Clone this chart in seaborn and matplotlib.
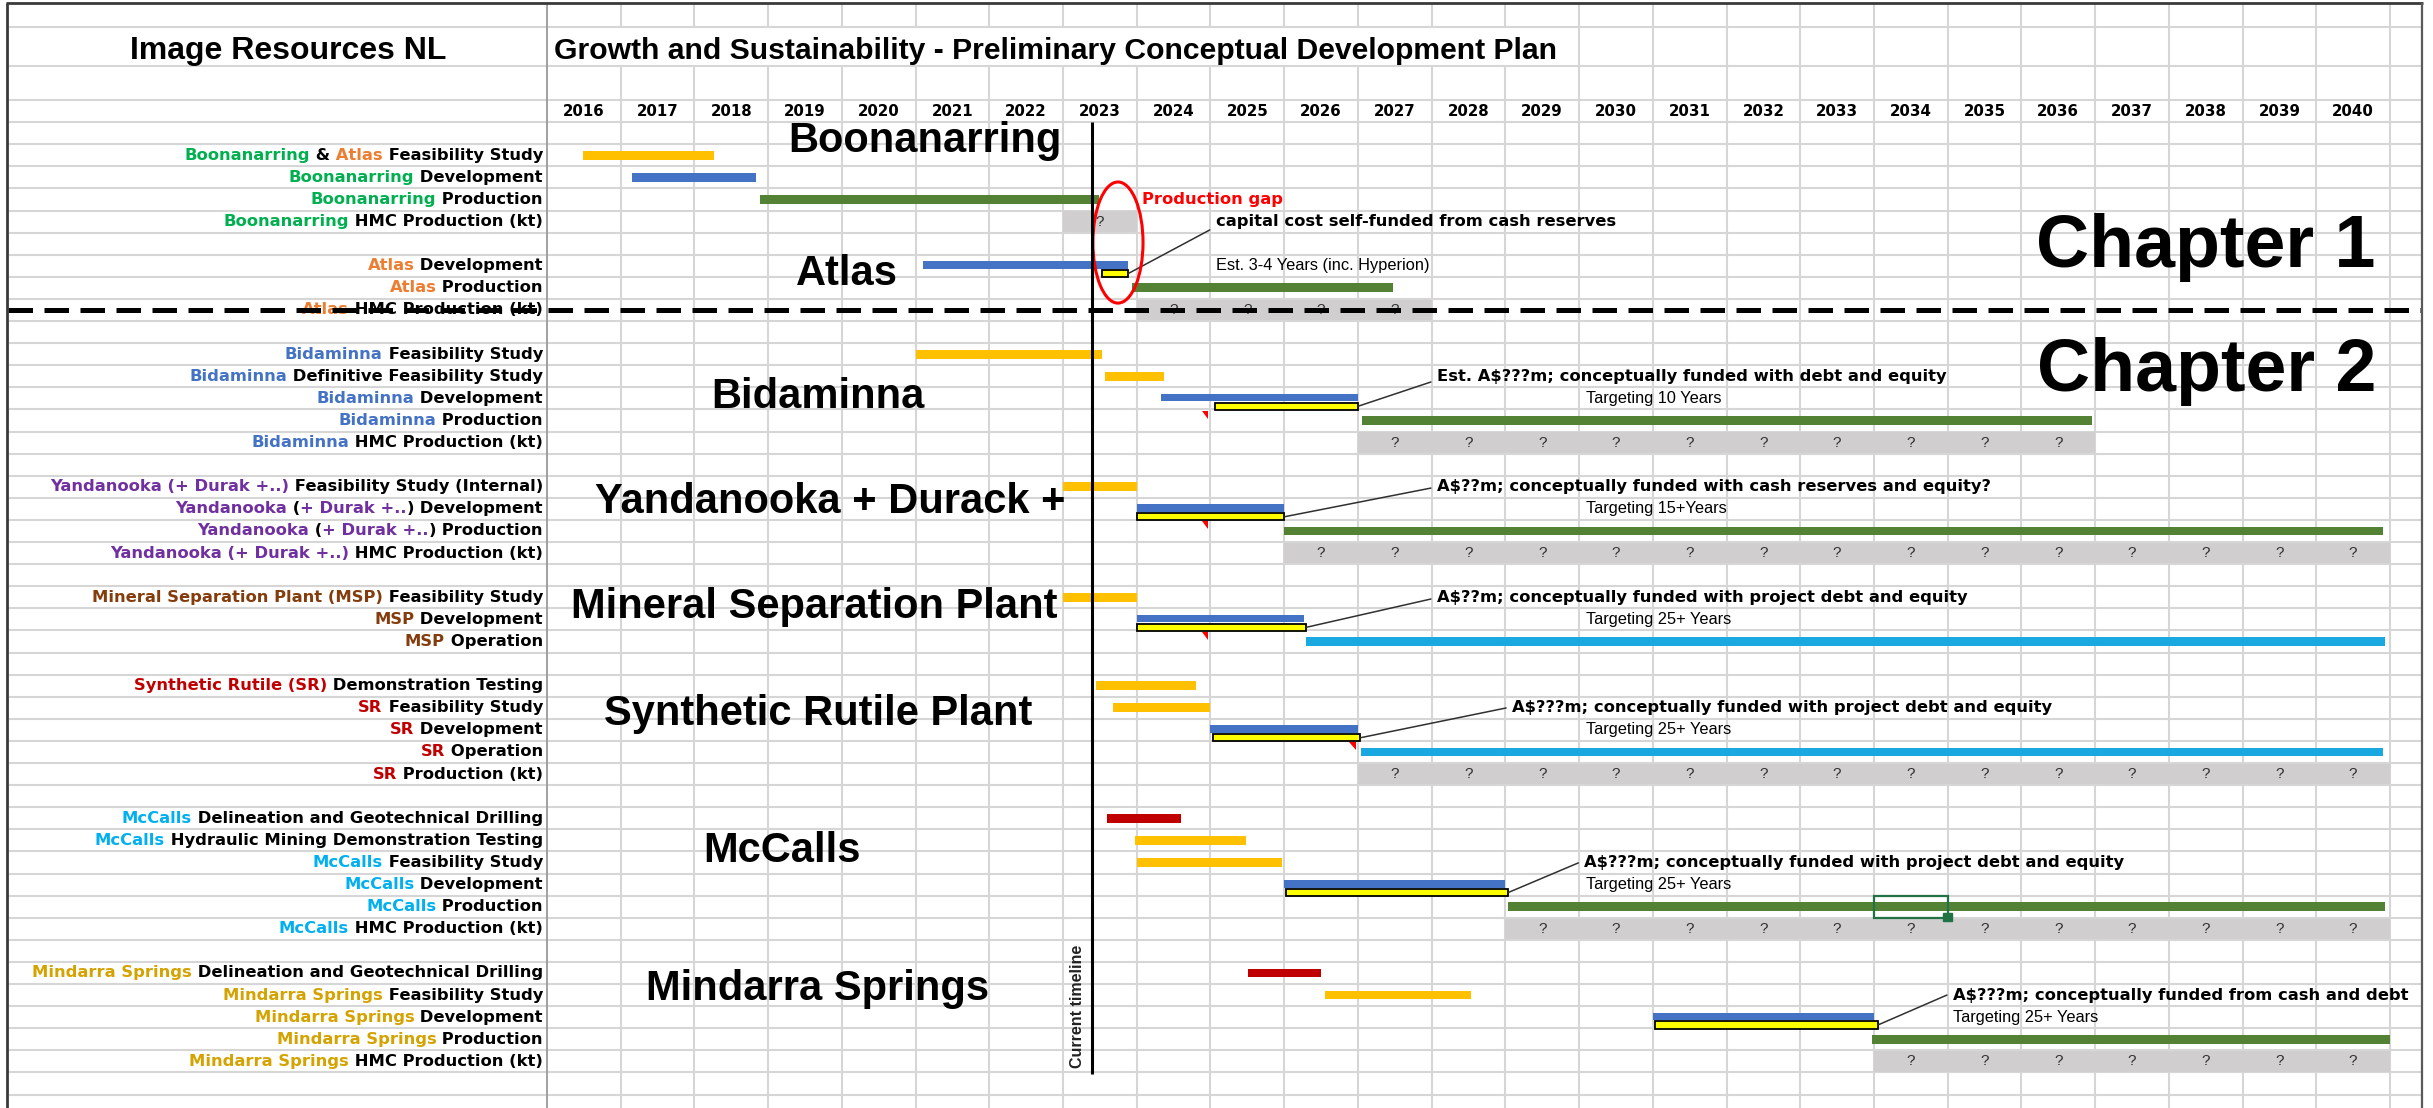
import matplotlib
matplotlib.use("Agg")
import matplotlib.pyplot as plt
import seaborn as sns
import pandas as pd
from matplotlib.offsetbox import TextArea, HPacker, AnnotationBbox
from matplotlib.patches import Ellipse, Rectangle

# ------------------------------------------------------------------ data
years = list(range(2016, 2041))

label_colors = {
    "k": "#000000", "boon": "#00B050", "atlas": "#ED7D31", "bid": "#4472C4",
    "yand": "#7030A0", "msp": "#843C0C", "sr": "#C00000", "mcc": "#00B0F0",
    "mind": "#D4A300",
}

label_segments = [
    [("Boonanarring", "boon"), (" &", "k"), (" Atlas", "atlas"), (" Feasibility Study", "k")],
    [("Boonanarring", "boon"), (" Development", "k")],
    [("Boonanarring", "boon"), (" Production", "k")],
    [("Boonanarring", "boon"), (" HMC Production (kt)", "k")],
    [],
    [("Atlas", "atlas"), (" Development", "k")],
    [("Atlas", "atlas"), (" Production", "k")],
    [("Atlas", "atlas"), (" HMC Production (kt)", "k")],
    [],
    [("Bidaminna", "bid"), (" Feasibility Study", "k")],
    [("Bidaminna", "bid"), (" Definitive Feasibility Study", "k")],
    [("Bidaminna", "bid"), (" Development", "k")],
    [("Bidaminna", "bid"), (" Production", "k")],
    [("Bidaminna", "bid"), (" HMC Production (kt)", "k")],
    [],
    [("Yandanooka (+ Durak +..)", "yand"), (" Feasibility Study (Internal)", "k")],
    [("Yandanooka", "yand"), (" (", "k"), ("+ Durak +..", "yand"), (")", "k"), (" Development", "k")],
    [("Yandanooka", "yand"), (" (", "k"), ("+ Durak +..", "yand"), (")", "k"), (" Production", "k")],
    [("Yandanooka (+ Durak +..)", "yand"), (" HMC Production (kt)", "k")],
    [],
    [("Mineral Separation Plant (MSP)", "msp"), (" Feasibility Study", "k")],
    [("MSP", "msp"), (" Development", "k")],
    [("MSP", "msp"), (" Operation", "k")],
    [],
    [("Synthetic Rutile (SR)", "sr"), (" Demonstration Testing", "k")],
    [("SR", "sr"), (" Feasibility Study", "k")],
    [("SR", "sr"), (" Development", "k")],
    [("SR", "sr"), (" Operation", "k")],
    [("SR", "sr"), (" Production (kt)", "k")],
    [],
    [("McCalls", "mcc"), (" Delineation and Geotechnical Drilling", "k")],
    [("McCalls", "mcc"), (" Hydraulic Mining Demonstration Testing", "k")],
    [("McCalls", "mcc"), (" Feasibility Study", "k")],
    [("McCalls", "mcc"), (" Development", "k")],
    [("McCalls", "mcc"), (" Production", "k")],
    [("McCalls", "mcc"), (" HMC Production (kt)", "k")],
    [],
    [("Mindarra Springs", "mind"), (" Delineation and Geotechnical Drilling", "k")],
    [("Mindarra Springs", "mind"), (" Feasibility Study", "k")],
    [("Mindarra Springs", "mind"), (" Development", "k")],
    [("Mindarra Springs", "mind"), (" Production", "k")],
    [("Mindarra Springs", "mind"), (" HMC Production (kt)", "k")],
]
task_names = ["".join(t for t, _ in segs) for segs in label_segments]

bar_colors = {"study": "#FFC000", "dev": "#4472C4", "prod": "#548235",
              "oper": "#1AA8E0", "drill": "#C00000"}

bar_task = [
    "Boonanarring & Atlas Feasibility Study", "Boonanarring Development", "Boonanarring Production",
    "Atlas Development", "Atlas Production",
    "Bidaminna Feasibility Study", "Bidaminna Definitive Feasibility Study", "Bidaminna Development",
    "Bidaminna Production",
    "Yandanooka (+ Durak +..) Feasibility Study (Internal)", "Yandanooka (+ Durak +..) Development",
    "Yandanooka (+ Durak +..) Production",
    "Mineral Separation Plant (MSP) Feasibility Study", "MSP Development", "MSP Operation",
    "Synthetic Rutile (SR) Demonstration Testing", "SR Feasibility Study", "SR Development", "SR Operation",
    "McCalls Delineation and Geotechnical Drilling", "McCalls Hydraulic Mining Demonstration Testing",
    "McCalls Feasibility Study", "McCalls Development", "McCalls Production",
    "Mindarra Springs Delineation and Geotechnical Drilling", "Mindarra Springs Feasibility Study",
    "Mindarra Springs Development", "Mindarra Springs Production",
]
bar_start = [2016.49, 2017.15, 2018.89, 2021.10, 2023.93, 2021.00, 2023.57, 2024.33, 2027.05,
             2023.00, 2024.00, 2026.00, 2023.00, 2024.00, 2026.30, 2023.45, 2023.68, 2025.00,
             2027.04, 2023.60, 2023.98, 2024.00, 2026.00, 2029.04, 2025.51, 2026.55, 2031.00, 2033.97]
bar_end = [2018.27, 2018.83, 2023.49, 2023.88, 2027.47, 2023.53, 2024.37, 2027.00, 2036.96,
           2024.00, 2026.00, 2040.90, 2024.00, 2026.27, 2040.93, 2024.80, 2025.00, 2027.00,
           2040.90, 2024.60, 2025.48, 2025.97, 2029.00, 2040.93, 2026.50, 2028.53, 2034.00, 2041.00]
bar_kind = ["study", "dev", "prod", "dev", "prod", "study", "study", "dev", "prod",
            "study", "dev", "prod", "study", "dev", "oper", "study", "study", "dev", "oper",
            "drill", "study", "study", "dev", "prod", "drill", "study", "dev", "prod"]

box_task = ["Atlas Development", "Bidaminna Development", "Yandanooka (+ Durak +..) Development",
            "MSP Development", "SR Development", "McCalls Development", "Mindarra Springs Development"]
box_start = [2023.53, 2025.06, 2024.00, 2024.00, 2025.03, 2026.02, 2031.03]
box_end = [2023.88, 2027.00, 2026.00, 2026.30, 2027.03, 2029.04, 2034.05]

hmc_task = ["Boonanarring HMC Production (kt)", "Atlas HMC Production (kt)",
            "Bidaminna HMC Production (kt)", "Yandanooka (+ Durak +..) HMC Production (kt)",
            "SR Production (kt)", "McCalls HMC Production (kt)", "Mindarra Springs HMC Production (kt)"]
hmc_start = [2023, 2024, 2027, 2026, 2027, 2029, 2034]
hmc_end = [2024, 2028, 2037, 2041, 2041, 2041, 2041]

note_text = ["capital cost self-funded from cash reserves",
             "Est. A$???m; conceptually funded with debt and equity",
             "A$??m; conceptually funded with cash reserves and equity?",
             "A$??m; conceptually funded with project debt and equity",
             "A$???m; conceptually funded with project debt and equity",
             "A$???m; conceptually funded with project debt and equity",
             "A$???m; conceptually funded from cash and debt"]
note_task = ["Boonanarring HMC Production (kt)", "Bidaminna Definitive Feasibility Study",
             "Yandanooka (+ Durak +..) Feasibility Study (Internal)",
             "Mineral Separation Plant (MSP) Feasibility Study", "SR Feasibility Study",
             "McCalls Feasibility Study", "Mindarra Springs Feasibility Study"]
note_x = [2025.07, 2028.07, 2028.07, 2028.07, 2029.09, 2030.07, 2035.07]
note_line_row = [0.88, 0.76, 0.56, 0.58, 0.51, 0.52, 0.50]
sub_text = ["Est. 3-4 Years (inc. Hyperion)", "Targeting 10 Years", "Targeting 15+Years",
            "Targeting 25+ Years", "Targeting 25+ Years", "Targeting 25+ Years", "Targeting 25+ Years"]
sub_x = [2025.07, 2030.09, 2030.09, 2030.09, 2030.09, 2030.09, 2035.07]

comment_cells = [("Bidaminna Production", 2025), ("Yandanooka (+ Durak +..) Production", 2025),
                 ("MSP Operation", 2025), ("SR Operation", 2027)]

section_titles = ["Boonanarring", "Atlas", "Bidaminna", "Yandanooka + Durack +",
                  "Mineral Separation Plant", "Synthetic Rutile Plant", "McCalls", "Mindarra Springs"]
section_px = [(925, 152), (847, 285), (818, 408), (830, 513), (814, 618), (818, 725), (782, 862), (818, 1000)]

current_year = 2023.39

# ------------------------------------------------------------------ layout helpers
FIRST_ROW = 5
ROW_OF = {n: FIRST_ROW + i for i, n in enumerate(task_names) if n}


def xpx(px):
    return 2016 + (px - 547) / 73.72


def ypx(py):
    return 3 + (py - 100) / 22.1


sns.set_theme(style="white")
plt.rcParams["font.family"] = ["DejaVu Sans"]

fig = plt.figure(figsize=(24.33, 11.08), dpi=100)
ax = fig.add_axes([0, 0, 1, 1])
ax.set_xlim(xpx(0), xpx(2433))
ax.set_ylim(ypx(1108), ypx(0))
ax.axis("off")

GRID = "#d6d6d6"
# horizontal grid
hrows = [ypx(27), ypx(66)] + list(range(3, 49))
ax.hlines(hrows, xpx(8), xpx(2422), color=GRID, lw=1.5, zorder=1)
# vertical grid
for yb in range(2017, 2042):
    if yb < 2030:
        ax.vlines(yb, ypx(3), ypx(27), color=GRID, lw=1.5, zorder=1)
        ax.vlines(yb, ypx(66), ypx(1108), color=GRID, lw=1.5, zorder=1)
    else:
        ax.vlines(yb, ypx(3), ypx(1108), color=GRID, lw=1.5, zorder=1)
ax.vlines(2016, ypx(3), ypx(1108), color="#9a9a9a", lw=1.3, zorder=1.2)
# borders
ax.hlines(ypx(3), xpx(6), xpx(2423), color="#3a3a3a", lw=2.0, zorder=7)
ax.vlines(xpx(7), ypx(3), ypx(1108), color="#3a3a3a", lw=2.0, zorder=7)
ax.vlines(xpx(2422), ypx(3), ypx(1108), color="#5a5a5a", lw=1.6, zorder=7)

# titles
ax.text(xpx(288), ypx(59), "Image Resources NL", ha="center", va="baseline",
        family="Liberation Sans", fontweight="bold", fontsize=23, color="black", zorder=5)
ax.text(xpx(554), ypx(59), "Growth and Sustainability - Preliminary Conceptual Development Plan",
        ha="left", va="baseline", family="Liberation Sans", fontweight="bold", fontsize=21.7,
        color="black", zorder=5)

# year header
for y in years:
    ax.text(y + 0.5, 3.5, str(y), ha="center", va="center", fontsize=10.8,
            fontweight="bold", family="DejaVu Sans", color="black", zorder=5)

# task labels (multi coloured)
LABEL_FS = 11.8
for i, segs in enumerate(label_segments):
    if not segs:
        continue
    row = FIRST_ROW + i
    kids = [TextArea(t, textprops=dict(color=label_colors[c], fontsize=LABEL_FS,
                                       fontweight="bold", family="DejaVu Sans"))
            for t, c in segs]
    pack = HPacker(children=kids, align="baseline", pad=0, sep=0)
    ab = AnnotationBbox(pack, (xpx(543), row + 0.5), xycoords="data", box_alignment=(1, 0.5),
                        frameon=False, pad=0, annotation_clip=False, zorder=5)
    ax.add_artist(ab)

# grey HMC cells with question marks
for t, s, e in zip(hmc_task, hmc_start, hmc_end):
    r = ROW_OF[t]
    ax.barh(r + 0.5, e - s, left=s, height=0.92, color="#D0CECE", zorder=1.5, linewidth=0)
    for y in range(s, e):
        ax.text(y + 0.5, r + 0.5, "?", ha="center", va="center", fontsize=11,
                family="Liberation Sans", color="#303030", zorder=5)

# bars
bars = pd.DataFrame({"task": bar_task, "start": bar_start, "end": bar_end, "kind": bar_kind})
bars["row"] = bars["task"].map(ROW_OF)
boxed = set(box_task)
for _, b in bars.iterrows():
    if b["task"] in boxed:
        yc, h = b["row"] + 0.47, 0.34
    else:
        yc, h = b["row"] + 0.5, 0.40
    ax.barh(yc, b["end"] - b["start"], left=b["start"], height=h,
            color=bar_colors[b["kind"]], linewidth=0, zorder=3)

# capital cost boxes
for t, s, e in zip(box_task, box_start, box_end):
    r = ROW_OF[t]
    ax.barh(r + 0.86, e - s, left=s, height=0.33, color="#FFFF00", edgecolor="black",
            linewidth=1.3, zorder=4)

# notes with leader lines
for i in range(len(note_text)):
    r = ROW_OF[note_task[i]]
    br = ROW_OF[box_task[i]]
    ax.text(note_x[i], r + 0.5, note_text[i], ha="left", va="center", fontsize=LABEL_FS,
            fontweight="bold", family="DejaVu Sans", color="black", zorder=5)
    ax.text(sub_x[i], br + 0.5, sub_text[i], ha="left", va="center", fontsize=11.8,
            family="Liberation Sans", color="black", zorder=5)
    ax.plot([box_end[i], note_x[i] - 0.08], [br + 0.86, r + note_line_row[i]],
            color="#303030", lw=1.1, zorder=4)

# comment indicators
for t, yb in comment_cells:
    r = ROW_OF[t]
    ax.fill([yb - 0.12, yb - 0.03, yb - 0.03], [r + 0.05, r + 0.05, r + 0.42],
            color="#FF0000", zorder=4, linewidth=0)

# section titles
for txt, (px, py) in zip(section_titles, section_px):
    ax.text(xpx(px), ypx(py), txt, ha="center", va="baseline", family="Liberation Sans",
            fontweight="bold", fontsize=30, color="black", zorder=5)

# chapter labels
ax.text(xpx(2206), ypx(267), "Chapter 1", ha="center", va="baseline", family="Liberation Sans",
        fontweight="bold", fontsize=53, color="black", zorder=5)
ax.text(xpx(2207), ypx(391), "Chapter 2", ha="center", va="baseline", family="Liberation Sans",
        fontweight="bold", fontsize=53, color="black", zorder=5)

# production gap
ax.add_patch(Ellipse((2023.745, 9.45), width=0.68, height=5.48, fill=False,
                     edgecolor="#FF0000", lw=2.2, zorder=6))
ax.text(2024.07, ROW_OF["Boonanarring Production"] + 0.5, "Production gap", ha="left",
        va="center", fontsize=LABEL_FS, fontweight="bold", family="DejaVu Sans",
        color="#FF0000", zorder=5)

# chapter divider
ax.hlines(12.5, xpx(8), xpx(2422), color="black", lw=3.6, linestyles=(0, (4.9, 2.3)), zorder=6)

# current timeline
ax.vlines(current_year, 4.0, 47.05, color="black", lw=2.2, zorder=6)
ax.text(xpx(1078), ypx(1006), "Current timeline", rotation=90, ha="center", va="center",
        family="Liberation Sans", fontweight="bold", fontsize=11.5, color="#222222", zorder=5)

# excel selection cell
ax.add_patch(Rectangle((2034, 39), 1, 1, fill=False, edgecolor="#217346", lw=1.6, zorder=6))
ax.add_patch(Rectangle((2034.94, 39.8), 0.12, 0.36, color="#217346", zorder=6))

fig.savefig("out.png", dpi=100)
